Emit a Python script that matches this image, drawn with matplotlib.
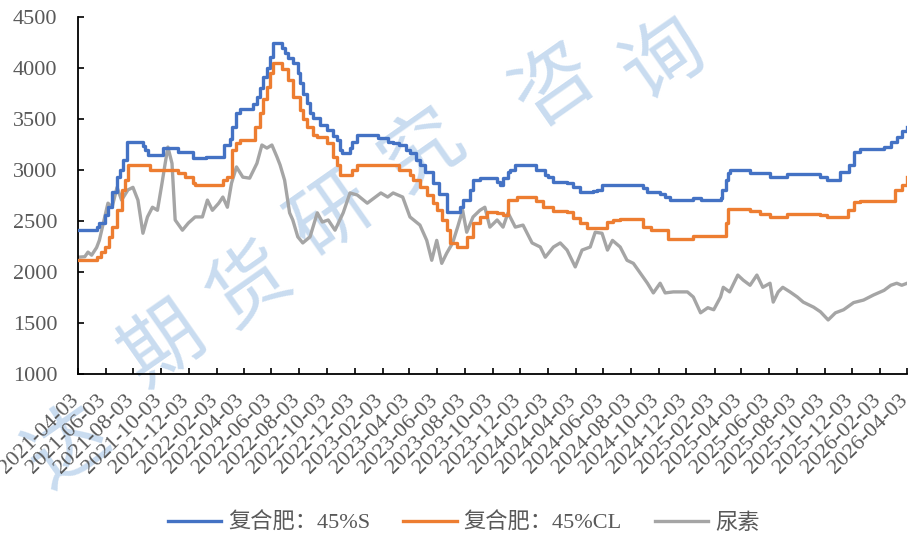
import matplotlib
matplotlib.use("Agg")
import matplotlib.pyplot as plt
import matplotlib.dates as mdates
import matplotlib.transforms as mtransforms
import pandas as pd

plt.rcParams['font.family'] = ['Liberation Serif', 'Noto Sans CJK SC']

# 复合肥：45%S
s_dates = ['2021-04-03', '2021-05-14', '2021-05-20', '2021-06-01', '2021-06-08', '2021-06-17',
           '2021-06-28', '2021-07-04', '2021-07-12', '2021-07-20', '2021-08-24', '2021-08-29',
           '2021-09-05', '2021-10-07', '2021-11-10', '2021-12-13', '2022-01-09', '2022-02-18',
           '2022-03-03', '2022-03-09', '2022-03-18', '2022-03-25', '2022-04-23', '2022-05-02',
           '2022-05-08', '2022-05-15', '2022-05-24', '2022-05-30', '2022-06-06', '2022-06-26',
           '2022-07-02', '2022-07-09', '2022-07-20', '2022-07-31', '2022-08-05', '2022-08-11',
           '2022-08-20', '2022-08-27', '2022-09-03', '2022-09-18', '2022-10-03', '2022-10-17',
           '2022-10-26', '2022-11-02', '2022-11-06', '2022-11-23', '2022-11-28', '2022-12-09',
           '2023-01-23', '2023-02-14', '2023-02-26', '2023-03-12', '2023-03-26', '2023-04-04',
           '2023-04-18', '2023-04-26', '2023-05-08', '2023-05-24', '2023-06-07', '2023-06-24',
           '2023-07-23', '2023-07-30', '2023-08-14', '2023-08-21', '2023-09-05', '2023-10-13',
           '2023-10-19', '2023-10-26', '2023-11-06', '2023-11-11', '2023-11-22', '2024-01-07',
           '2024-01-27', '2024-02-01', '2024-02-14', '2024-03-15', '2024-03-28', '2024-04-13',
           '2024-05-11', '2024-05-20', '2024-06-01', '2024-08-30', '2024-09-08', '2024-10-06',
           '2024-10-17', '2024-10-28', '2024-12-18', '2025-01-03', '2025-02-16', '2025-02-20',
           '2025-02-27', '2025-03-04', '2025-03-08', '2025-04-22', '2025-06-05', '2025-07-12',
           '2025-09-24', '2025-10-09', '2025-11-07', '2025-11-25', '2025-12-06', '2025-12-21',
           '2026-02-11', '2026-02-26', '2026-03-11', '2026-03-22', '2026-04-03']
s_values = [2410, 2440, 2480, 2560, 2640, 2780,
            2930, 3000, 3100, 3275, 3240, 3200,
            3150, 3215, 3175, 3115, 3130, 3245,
            3300, 3420, 3560, 3600, 3650, 3715,
            3800, 3910, 4000, 4105, 4245, 4200,
            4145, 4100, 4045, 3950, 3850, 3750,
            3655, 3560, 3510, 3440, 3390, 3330,
            3295, 3200, 3165, 3220, 3275, 3340,
            3310, 3275, 3260, 3245, 3200, 3165,
            3100, 3050, 2980, 2870, 2760, 2590,
            2640, 2705, 2800, 2900, 2920, 2880,
            2850, 2920, 2980, 3000, 3050, 3000,
            2950, 2930, 2880, 2870, 2830, 2785,
            2790, 2805, 2850, 2820, 2785, 2760,
            2740, 2705, 2725, 2705, 2725, 2800,
            2900, 2970, 3000, 2970, 2935, 2960,
            2930, 2900, 2980, 3050, 3175, 3205,
            3225, 3275, 3320, 3380, 3420]

# 复合肥：45%CL
cl_dates = ['2021-04-03', '2021-05-14', '2021-05-24', '2021-06-01', '2021-06-10', '2021-06-17',
            '2021-06-28', '2021-07-10', '2021-07-15', '2021-07-22', '2021-09-09', '2021-11-10',
            '2021-11-25', '2021-12-13', '2021-12-17', '2022-02-16', '2022-02-26', '2022-03-09',
            '2022-03-18', '2022-03-25', '2022-04-27', '2022-05-08', '2022-05-15', '2022-05-24',
            '2022-05-30', '2022-06-06', '2022-06-26', '2022-07-09', '2022-07-20', '2022-08-05',
            '2022-08-11', '2022-08-20', '2022-09-03', '2022-09-12', '2022-10-03', '2022-10-17',
            '2022-10-26', '2022-11-02', '2022-11-28', '2022-12-09', '2023-03-12', '2023-04-04',
            '2023-04-11', '2023-04-26', '2023-05-11', '2023-05-24', '2023-06-02', '2023-06-13',
            '2023-06-24', '2023-07-01', '2023-07-16', '2023-08-07', '2023-08-21', '2023-09-05',
            '2023-09-21', '2023-10-13', '2023-10-26', '2023-11-06', '2023-11-26', '2024-01-07',
            '2024-01-23', '2024-02-14', '2024-03-15', '2024-03-28', '2024-04-13', '2024-04-28',
            '2024-06-12', '2024-06-25', '2024-07-10', '2024-08-30', '2024-09-15', '2024-10-24',
            '2024-12-18', '2025-02-27', '2025-03-04', '2025-04-22', '2025-05-14', '2025-06-05',
            '2025-07-12', '2025-09-24', '2025-10-09', '2025-11-23', '2025-12-06', '2025-12-21',
            '2026-03-07', '2026-03-22', '2026-04-03']
cl_values = [2120, 2150, 2200, 2245, 2340, 2440,
             2605, 2800, 2900, 3050, 3000, 2970,
             2930, 2870, 2850, 2900, 2930, 3195,
             3260, 3295, 3420, 3560, 3700, 3815,
             3950, 4050, 3990, 3880, 3715, 3590,
             3500, 3420, 3340, 3320, 3265, 3130,
             3050, 2950, 3000, 3050, 3000, 2950,
             2900, 2830, 2755, 2680, 2610, 2510,
             2410, 2285, 2245, 2345, 2480, 2540,
             2590, 2575, 2555, 2705, 2735, 2700,
             2635, 2600, 2590, 2530, 2480, 2430,
             2490, 2510, 2520, 2440, 2410, 2325,
             2350, 2480, 2615, 2600, 2570, 2540,
             2570, 2555, 2540, 2605, 2685, 2695,
             2805, 2850, 2930]

# 尿素
u_dates = ['2021-04-03', '2021-04-18', '2021-04-25', '2021-05-03', '2021-05-14', '2021-05-20',
           '2021-06-01', '2021-06-08', '2021-06-17', '2021-06-28', '2021-07-08', '2021-07-22',
           '2021-08-02', '2021-08-13', '2021-08-24', '2021-09-03', '2021-09-14', '2021-09-25',
           '2021-10-05', '2021-10-12', '2021-10-18', '2021-10-27', '2021-11-03', '2021-11-19',
           '2021-12-02', '2021-12-17', '2022-01-02', '2022-01-13', '2022-01-24', '2022-02-07',
           '2022-02-16', '2022-02-26', '2022-03-07', '2022-03-18', '2022-04-01', '2022-04-16',
           '2022-05-02', '2022-05-13', '2022-05-24', '2022-06-04', '2022-06-15', '2022-06-22',
           '2022-07-02', '2022-07-13', '2022-07-20', '2022-07-31', '2022-08-11', '2022-08-27',
           '2022-09-12', '2022-09-23', '2022-10-06', '2022-10-21', '2022-11-08', '2022-11-23',
           '2022-12-09', '2022-12-31', '2023-01-30', '2023-02-14', '2023-02-26', '2023-03-19',
           '2023-04-04', '2023-04-26', '2023-05-11', '2023-05-22', '2023-06-02', '2023-06-13',
           '2023-06-24', '2023-07-07', '2023-07-18', '2023-07-29', '2023-08-07', '2023-08-21',
           '2023-09-05', '2023-09-16', '2023-09-27', '2023-10-13', '2023-10-26', '2023-11-06',
           '2023-11-22', '2023-12-09', '2023-12-29', '2024-01-16', '2024-01-27', '2024-02-14',
           '2024-02-29', '2024-03-15', '2024-04-02', '2024-04-17', '2024-05-05', '2024-05-16',
           '2024-05-31', '2024-06-12', '2024-06-23', '2024-07-10', '2024-07-25', '2024-08-08',
           '2024-08-23', '2024-09-08', '2024-09-21', '2024-10-06', '2024-10-17', '2024-11-04',
           '2024-12-05', '2024-12-18', '2025-01-03', '2025-01-19', '2025-02-01', '2025-02-16',
           '2025-02-22', '2025-03-08', '2025-03-26', '2025-04-07', '2025-04-22', '2025-05-07',
           '2025-05-20', '2025-06-05', '2025-06-12', '2025-06-23', '2025-07-03', '2025-07-19',
           '2025-08-04', '2025-08-17', '2025-09-09', '2025-09-24', '2025-10-11', '2025-10-27',
           '2025-11-14', '2025-12-06', '2025-12-28', '2026-01-19', '2026-02-11', '2026-02-26',
           '2026-03-11', '2026-03-22', '2026-04-03']
u_values = [2145, 2150, 2195, 2165, 2240, 2310,
            2540, 2675, 2635, 2830, 2705, 2805,
            2830, 2705, 2380, 2540, 2635, 2605,
            2870, 3065, 3225, 3065, 2510, 2410,
            2480, 2540, 2540, 2705, 2605, 2675,
            2735, 2635, 2870, 3030, 2930, 2920,
            3065, 3245, 3215, 3245, 3130, 3050,
            2900, 2580, 2510, 2345, 2285, 2345,
            2580, 2490, 2510, 2410, 2580, 2775,
            2755, 2675, 2775, 2735, 2775, 2735,
            2540, 2460, 2310, 2115, 2310, 2085,
            2185, 2285, 2440, 2605, 2390, 2540,
            2605, 2635, 2440, 2510, 2440, 2580,
            2440, 2460, 2285, 2245, 2145, 2245,
            2285, 2215, 2050, 2215, 2245, 2390,
            2380, 2215, 2310, 2245, 2115, 2085,
            1990, 1890, 1795, 1890, 1795, 1805,
            1805, 1755, 1600, 1650, 1630, 1755,
            1850, 1805, 1970, 1920, 1870, 1970,
            1850, 1890, 1705, 1805, 1850, 1805,
            1755, 1705, 1655, 1610, 1530, 1600,
            1630, 1700, 1725, 1775, 1820, 1870,
            1890, 1870, 1890]

tick_dates = pd.date_range('2021-04-01', '2026-04-01', freq='2MS') + pd.Timedelta(days=2)
y_ticks = [1000, 1500, 2000, 2500, 3000, 3500, 4000, 4500]

watermark = ['达', '期', '货', '研', '究', '咨', '询']
wm_pos = [(0.075, 0.17), (0.18, 0.36), (0.275, 0.47), (0.365, 0.60), (0.465, 0.72), (0.61, 0.84), (0.73, 0.89)]

fig = plt.figure(figsize=(9.09, 5.40), dpi=100)
ax = fig.add_axes([0.0858, 0.3074, 0.9122, 0.6611])

for ch, (px, py) in zip(watermark, wm_pos):
    ax.text(px, py, ch, transform=fig.transFigure, fontsize=58, color='#c9dcf0',
            family='Noto Sans CJK SC', rotation=35, ha='center', va='center',
            zorder=0.5, clip_on=False)

ax.plot(pd.to_datetime(s_dates), s_values, drawstyle='steps-post', color='#4472C4',
        lw=2.4, label='复合肥：45%S', zorder=3)
ax.plot(pd.to_datetime(cl_dates), cl_values, drawstyle='steps-post', color='#ED7D31',
        lw=2.4, label='复合肥：45%CL', zorder=3)
ax.plot(pd.to_datetime(u_dates), u_values, color='#A5A5A5', lw=2.4, label='尿素', zorder=2)

ax.set_xlim(pd.Timestamp('2021-04-03'), pd.Timestamp('2026-04-03'))
ax.set_ylim(1000, 4500)
ax.set_yticks(y_ticks)
ax.set_xticks(tick_dates)
ax.xaxis.set_major_formatter(mdates.DateFormatter('%Y-%m-%d'))

for side in ['top', 'right']:
    ax.spines[side].set_visible(False)
for side in ['left', 'bottom']:
    ax.spines[side].set_linewidth(1.3)
    ax.spines[side].set_color('black')

ax.tick_params(axis='both', direction='in', length=4, width=1.2, colors='black',
               labelcolor='#595959', labelsize=16)
ax.tick_params(axis='y', pad=15)
ax.tick_params(axis='x', pad=12)
shift = mtransforms.ScaledTranslation(-9 / 100, 0, fig.dpi_scale_trans)
for lab in ax.get_xticklabels():
    lab.set_rotation(45)
    lab.set_ha('right')
    lab.set_va('top')
    lab.set_rotation_mode('anchor')
    lab.set_transform(lab.get_transform() + shift)

leg = ax.legend(loc='center', bbox_to_anchor=(0.51, 0.031), bbox_transform=fig.transFigure,
                ncol=3, frameon=False, fontsize=16, handlelength=2.4, handletextpad=0.3,
                columnspacing=1.5)
for t in leg.get_texts():
    t.set_color('#595959')

fig.savefig('out.png', dpi=100)
